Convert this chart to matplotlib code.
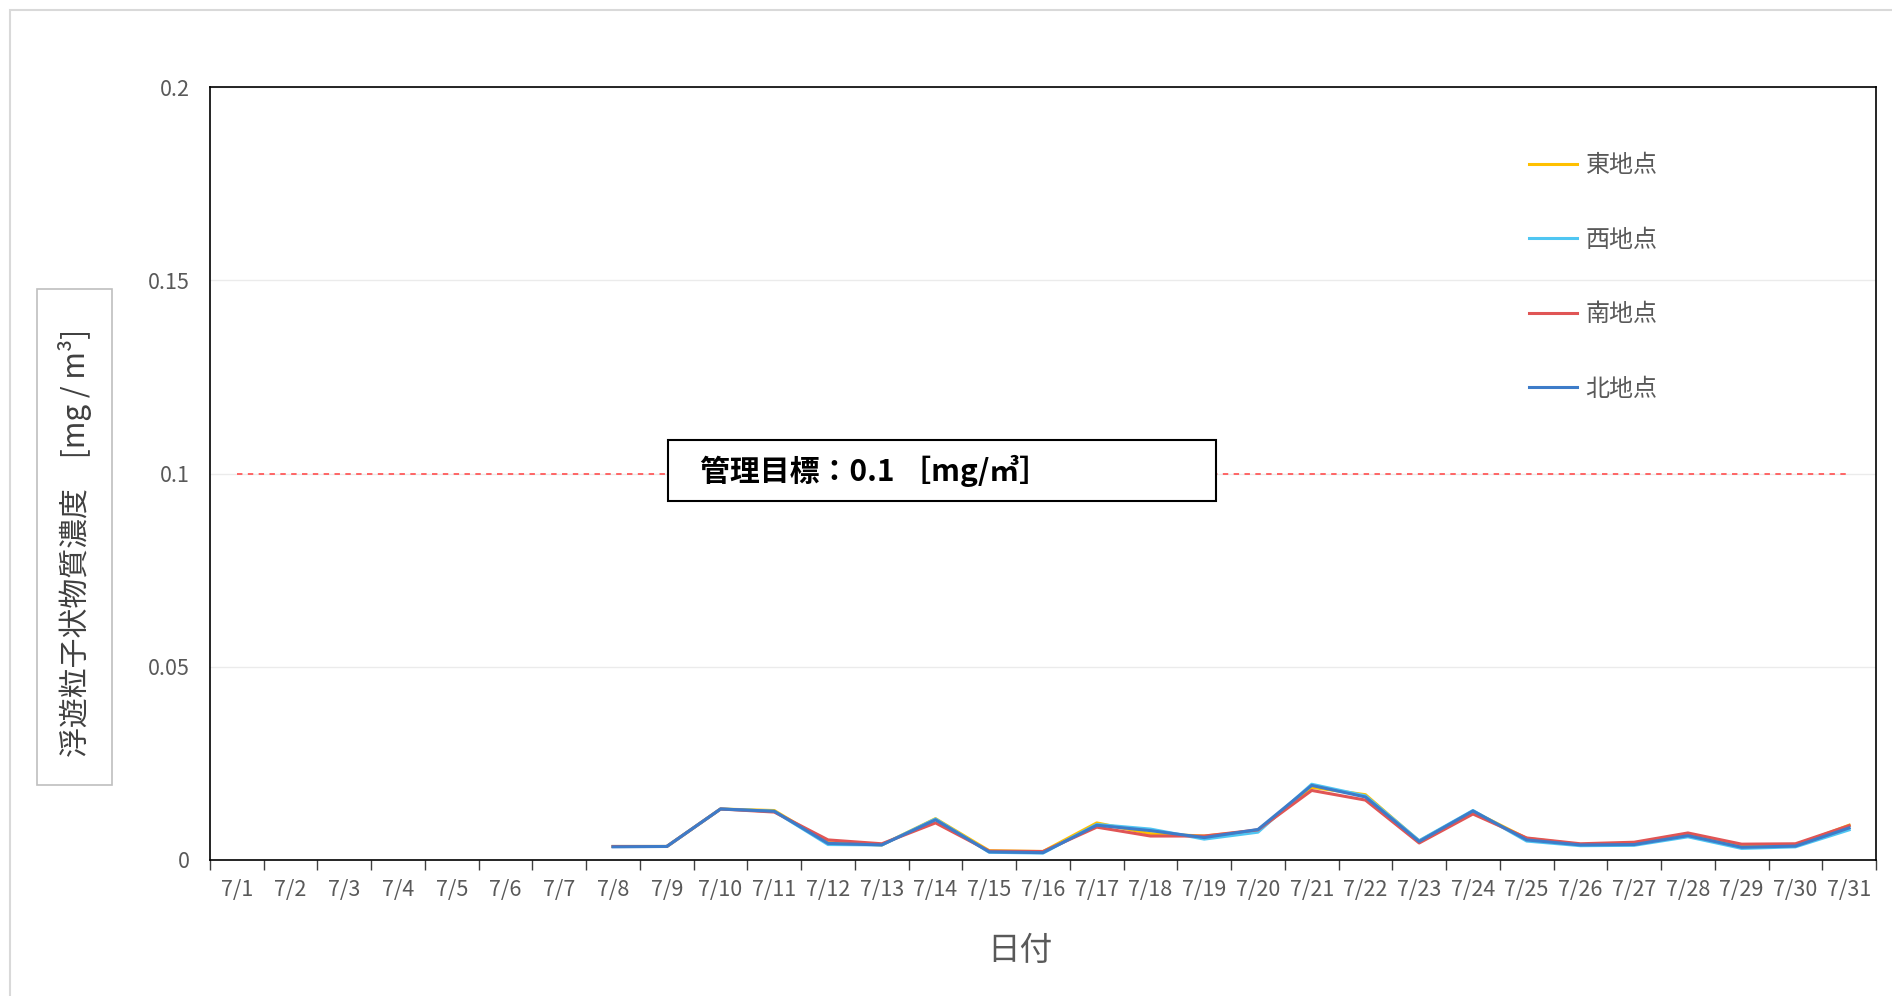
import numpy as np
import matplotlib
matplotlib.use("Agg")
import matplotlib.pyplot as plt
from matplotlib.patches import Rectangle

plt.rcParams['font.family'] = ['Noto Sans CJK JP', 'DejaVu Sans']

days = [f"7/{d}" for d in range(1, 32)]
nan = np.nan
pre = [nan] * 7
east = pre + [0.0035, 0.0035, 0.0132, 0.0128, 0.0045, 0.0039, 0.0107, 0.0024, 0.0022, 0.0096,
              0.0068, 0.0062, 0.0076, 0.0188, 0.0169, 0.0049, 0.0126, 0.0056, 0.0040, 0.0042,
              0.0066, 0.0036, 0.0038, 0.0090]
west = pre + [0.0035, 0.0035, 0.0132, 0.0126, 0.0040, 0.0039, 0.0106, 0.0020, 0.0018, 0.0092,
              0.0080, 0.0054, 0.0072, 0.0196, 0.0166, 0.0050, 0.0128, 0.0049, 0.0037, 0.0038,
              0.0060, 0.0030, 0.0034, 0.0078]
south = pre + [0.0035, 0.0035, 0.0132, 0.0124, 0.0052, 0.0042, 0.0096, 0.0023, 0.0022, 0.0085,
               0.0062, 0.0062, 0.0078, 0.0180, 0.0155, 0.0044, 0.0119, 0.0057, 0.0042, 0.0046,
               0.0070, 0.0041, 0.0042, 0.0089]
north = pre + [0.0034, 0.0035, 0.0132, 0.0126, 0.0043, 0.0039, 0.0104, 0.0021, 0.0019, 0.0090,
               0.0076, 0.0058, 0.0079, 0.0193, 0.0163, 0.0048, 0.0127, 0.0052, 0.0039, 0.0040,
               0.0063, 0.0033, 0.0036, 0.0083]
series_names = ["東地点", "西地点", "南地点", "北地点"]
series_values = [east, west, south, north]
series_colors = ["#FFC000", "#4FC6F2", "#E05555", "#3D7CC9"]
target = 0.1
yticks = [0, 0.05, 0.1, 0.15, 0.2]
ytick_labels = ["0", "0.05", "0.1", "0.15", "0.2"]

W, H = 1892, 996
fig = plt.figure(figsize=(W / 100, H / 100), dpi=100)
fig.patch.set_facecolor("white")

def fx(px):
    return px / W

def fy(py):
    return 1 - py / H

ax = fig.add_axes([fx(210), fy(860), fx(1876) - fx(210), fy(87) - fy(860)])
x = np.arange(len(days))

for vals, name, col in zip(series_values, series_names, series_colors):
    ax.plot(x, vals, color=col, lw=2.2, label=name, zorder=3)

ax.hlines(target, 0, len(days) - 1, colors="#FF5A5A", linestyles=(0, (3, 3)), lw=1.3, zorder=2)

ax.set_xlim(-0.5, len(days) - 0.5)
ax.set_ylim(0, 0.2)
ax.set_yticks(yticks)
ax.set_yticklabels(ytick_labels)
ax.set_xticks(x)
ax.set_xticklabels(days)
ax.set_xticks(np.arange(-0.5, len(days), 1.0), minor=True)
ax.tick_params(axis="x", which="major", length=0, pad=14, labelsize=15.5, labelcolor="#595959")
ax.tick_params(axis="x", which="minor", length=7, width=1, color="#404040", direction="out")
ax.tick_params(axis="y", length=0, pad=14.5, labelsize=15.5, labelcolor="#595959")
ax.grid(axis="y", color="#EBEBEB", lw=1, zorder=0)
for s in ax.spines.values():
    s.set_color("black")
    s.set_linewidth(1.2)

leg = ax.legend(loc="upper left", bbox_to_anchor=(fx(1517), fy(140)), bbox_transform=fig.transFigure,
                frameon=False, fontsize=17.3, handlelength=2.0, handletextpad=0.35,
                labelspacing=2.02, borderpad=0)
for t in leg.get_texts():
    t.set_color("#595959")

# target annotation box
fig.add_artist(Rectangle((fx(668), fy(501)), fx(1216) - fx(668), fy(440) - fy(501),
                         transform=fig.transFigure, facecolor="white", edgecolor="black",
                         lw=1.5, zorder=5))
fig.text(fx(700), fy(471), "管理目標：0.1 ［mg/㎥］", fontsize=21.5, fontweight="bold",
         color="black", ha="left", va="center", zorder=6)

# y label box
fig.add_artist(Rectangle((fx(37), fy(785)), fx(112) - fx(37), fy(289) - fy(785),
                         transform=fig.transFigure, facecolor="white", edgecolor="#BFBFBF",
                         lw=1.2, zorder=5))
fig.text(fx(75), fy(543), "浮遊粒子状物質濃度　[mg / m³]", rotation=90, fontsize=21.5,
         color="#404040", ha="center", va="center", zorder=6)

fig.text(fx(1020), fy(951), "日付", fontsize=23.5, color="#595959", ha="center", va="center")

# outer chart border
fig.add_artist(Rectangle((fx(10), -0.05), 1.2, fy(10) + 0.05, transform=fig.transFigure,
                         facecolor="none", edgecolor="#D9D9D9", lw=1.5, zorder=0))

fig.savefig("out.png", dpi=100, facecolor="white")
